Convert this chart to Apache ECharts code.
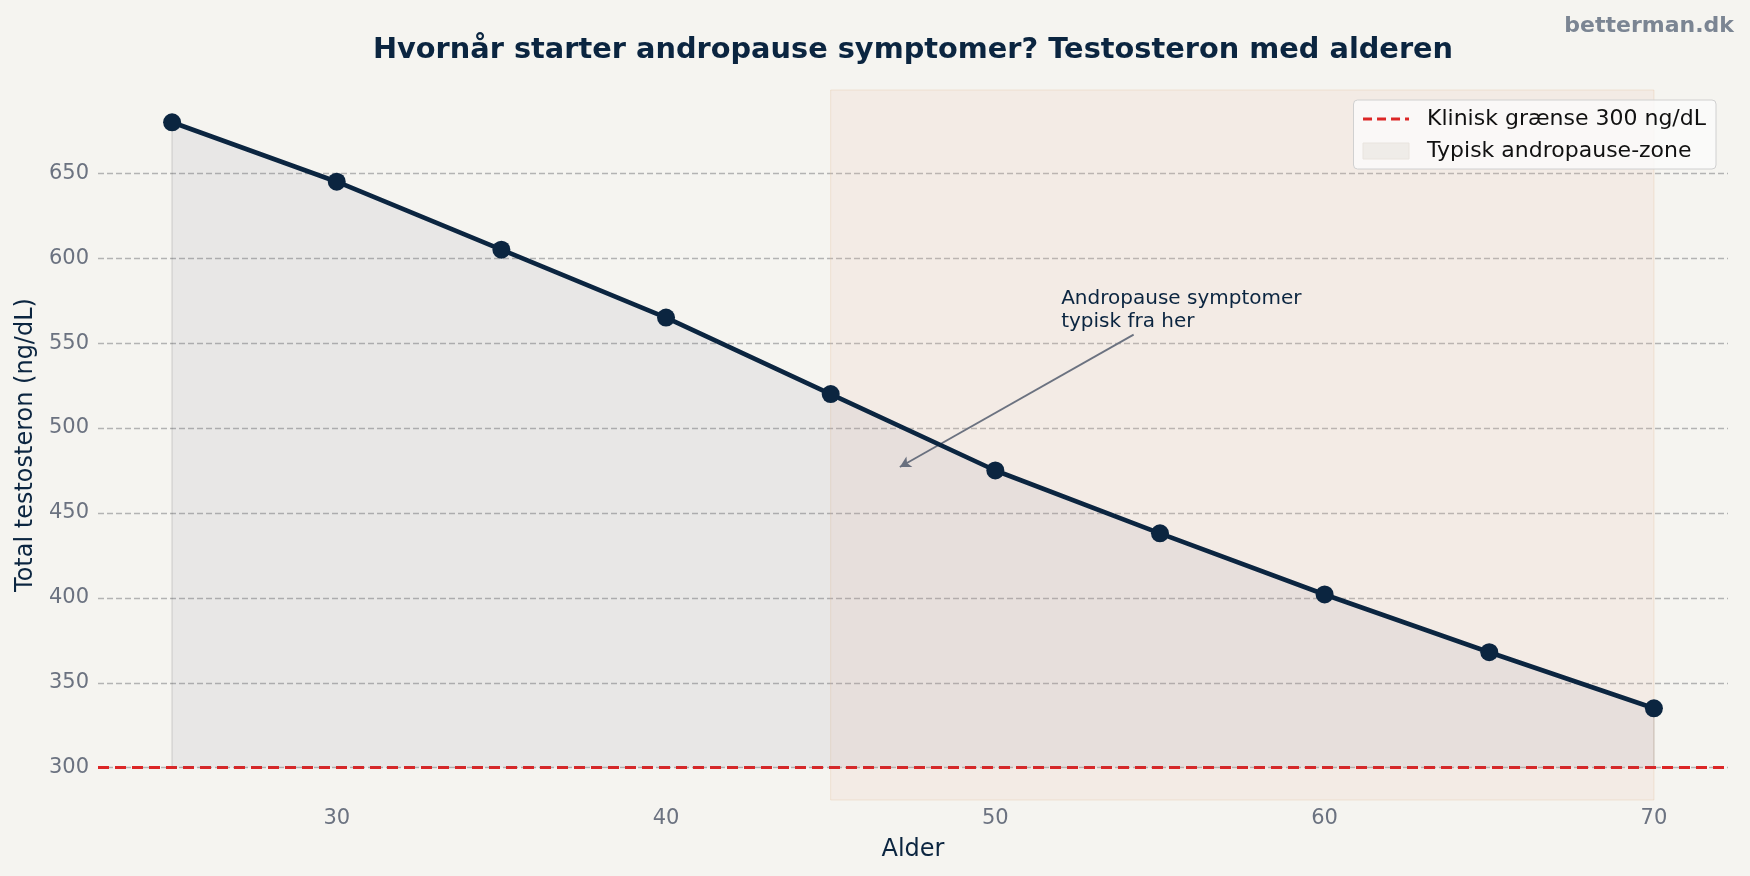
<!DOCTYPE html>
<html>
<head>
<meta charset="utf-8">
<script src="https://cdn.jsdelivr.net/npm/echarts@6/dist/echarts.min.js"></script>
<style>
  html, body { margin: 0; padding: 0; background: #f5f4f0; }
  #chart { width: 1750px; height: 876px; }
</style>
</head>
<body>
<div id="chart"></div>
<script>
// data
const ages = [25, 30, 35, 40, 45, 50, 55, 60, 65, 70];
const testosterone = [680, 645, 605, 565, 520, 475, 438, 402, 368, 335];
const clinicalLimit = 300;
const zoneRange = [45, 70];
const noteText = 'Andropause symptomer\ntypisk fra her';
const notePos = [52, 556];
const arrowFrom = [54.2, 555];
const arrowTo = [47.1, 477];
const xRange = [22.75, 72.25];
const yRange = [281, 699];

const FONT = 'DejaVu Sans';
const NAVY = '#0b2540';
const SLATE = '#6b7280';
const RED = '#dc2626';

const chart = echarts.init(document.getElementById('chart'), null, { renderer: 'canvas' });

const option = {
    animation: false,
    backgroundColor: '#f5f4f0',
    textStyle: { fontFamily: FONT },
    title: {
        text: 'Hvornår starter andropause symptomer? Testosteron med alderen',
        left: 913,
        textAlign: 'center',
        top: 36,
        padding: 0,
        textStyle: { fontFamily: FONT, fontSize: 28.8, fontWeight: 'bold', color: NAVY }
    },
    graphic: [{
        type: 'text',
        right: 16,
        top: 15,
        style: { text: 'betterman.dk', font: 'bold 22px "DejaVu Sans"', fill: '#7b8593' }
    }],
    legend: {
        orient: 'vertical',
        right: 34,
        top: 100,
        padding: [8, 10, 7, 8],
        itemGap: 10,
        itemWidth: 46,
        itemHeight: 16,
        backgroundColor: 'rgba(250,250,250,0.85)',
        borderColor: '#d0d0d0',
        borderWidth: 1,
        borderRadius: 4,
        textStyle: { fontFamily: FONT, fontSize: 22, color: '#111111', padding: [0, 0, 0, 13] },
        data: [
            { name: 'Klinisk grænse 300 ng/dL', itemStyle: { opacity: 0 },
              lineStyle: { color: RED, width: 3, type: [9, 5] } },
            { name: 'Typisk andropause-zone', icon: 'rect',
              itemStyle: { color: '#efece8', borderColor: '#e9e4de', borderWidth: 1 } }
        ]
    },
    grid: { left: 98, right: 22, top: 90, bottom: 76 },
    xAxis: {
        type: 'value',
        min: xRange[0],
        max: xRange[1],
        splitNumber: 5,
        name: 'Alder',
        nameLocation: 'middle',
        nameGap: 38,
        nameTextStyle: { fontFamily: FONT, fontSize: 24, color: NAVY },
        axisLine: { show: false },
        axisTick: { show: false },
        splitLine: { show: false },
        axisLabel: {
            fontFamily: FONT, fontSize: 21, color: SLATE, margin: 8,
            showMinLabel: false, showMaxLabel: false
        }
    },
    yAxis: {
        type: 'value',
        min: yRange[0],
        max: yRange[1],
        splitNumber: 8,
        name: 'Total testosteron (ng/dL)',
        nameLocation: 'middle',
        nameGap: 58,
        nameTextStyle: { fontFamily: FONT, fontSize: 24, color: NAVY },
        axisLine: { show: false },
        axisTick: { show: false },
        axisLabel: {
            fontFamily: FONT, fontSize: 21, color: SLATE, margin: 9,
            showMinLabel: false, showMaxLabel: false
        },
        splitLine: {
            show: true,
            showMinLine: false,
            showMaxLine: false,
            lineStyle: { color: '#b3b3b3', width: 1.3, type: [6, 3] }
        }
    },
    series: [
        {
            // andropause zone (axvspan)
            name: 'Typisk andropause-zone',
            type: 'line',
            data: [],
            symbol: 'none',
            itemStyle: { color: '#efece8' },
            markArea: {
                silent: true,
                itemStyle: {
                    color: 'rgba(232,190,165,0.15)',
                    borderColor: 'rgba(225,185,150,0.3)',
                    borderWidth: 1
                },
                data: [[{ xAxis: zoneRange[0] }, { xAxis: zoneRange[1] }]]
            }
        },
        {
            name: 'Testosteron',
            type: 'line',
            data: ages.map((a, i) => [a, testosterone[i]]),
            symbol: 'circle',
            symbolSize: 18,
            z: 5,
            itemStyle: { color: NAVY },
            lineStyle: { color: NAVY, width: 4.6 },
            areaStyle: { origin: clinicalLimit, color: 'rgba(85,90,110,0.11)' },
            markLine: {
                silent: true,
                symbol: ['none', 'none'],
                label: { show: false },
                lineStyle: { color: 'rgba(0,0,0,0.1)', width: 1.5, type: 'solid' },
                data: [
                    [{ coord: [ages[0], clinicalLimit] }, { coord: [ages[0], testosterone[0]] }],
                    [{ coord: [ages[ages.length - 1], clinicalLimit] },
                     { coord: [ages[ages.length - 1], testosterone[testosterone.length - 1]] }]
                ]
            }
        },
        {
            name: 'Klinisk grænse 300 ng/dL',
            type: 'line',
            data: [],
            symbol: 'none',
            itemStyle: { color: RED },
            lineStyle: { color: RED, width: 3, type: [11, 6] },
            markLine: {
                silent: true,
                symbol: ['none', 'none'],
                label: { show: false },
                lineStyle: { color: RED, width: 3, type: [11, 6] },
                data: [{ yAxis: clinicalLimit }]
            }
        },
        {
            // annotation text + arrow
            name: 'note',
            type: 'scatter',
            data: [notePos],
            symbolSize: 0,
            silent: true,
            z: 6,
            itemStyle: { opacity: 1 },
            label: {
                show: true,
                position: 'inside',
                align: 'left',
                verticalAlign: 'bottom',
                formatter: noteText,
                fontFamily: FONT,
                fontSize: 20,
                lineHeight: 23,
                color: NAVY,
                opacity: 1
            },
            markLine: {
                silent: true,
                symbol: ['none', 'arrow'],
                symbolSize: [9, 11],
                label: { show: false },
                lineStyle: { color: SLATE, width: 1.8, type: 'solid', opacity: 1 },
                data: [[{ coord: arrowFrom }, { coord: arrowTo }]]
            }
        }
    ]
};

chart.setOption(option, true);
</script>
</body>
</html>
